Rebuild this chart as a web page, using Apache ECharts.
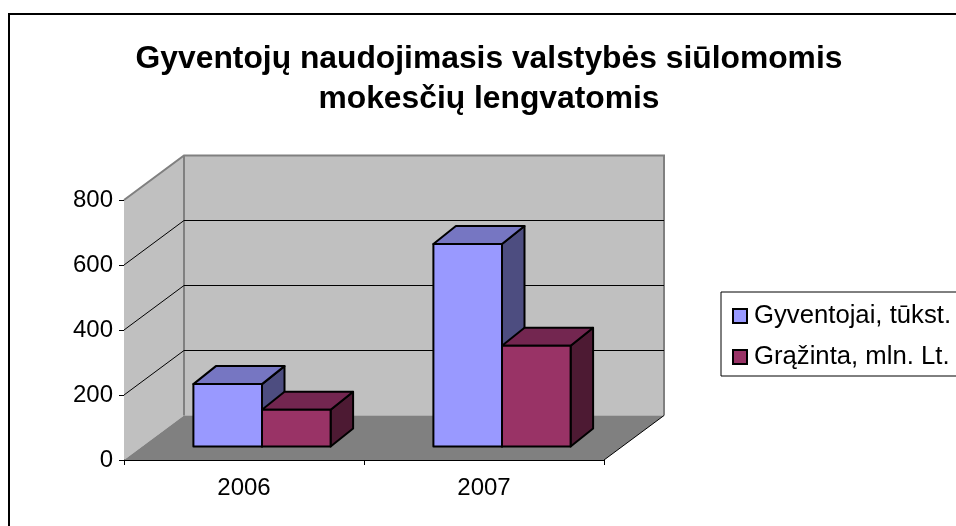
<!DOCTYPE html>
<html><head><meta charset="utf-8">
<style>html,body{margin:0;padding:0;background:#fff}#c{width:956px;height:526px}</style>
<script src="https://cdn.jsdelivr.net/npm/echarts@6/dist/echarts.min.js"></script>
</head><body><div id="c"></div>
<script>
const categories = ['2006', '2007'];
const gyventojai = [192, 623];
const grazinta = [113, 310];
const yTicks = [0, 200, 400, 600, 800];
const titleLines = ['Gyventojų naudojimasis valstybės siūlomomis', 'mokesčių lengvatomis'];
const seriesNames = ['Gyventojai, tūkst.', 'Grąžinta, mln. Lt.'];

const FONT = '"Liberation Sans", Arial, sans-serif';
const WALL_DX = 60, WALL_DY = -44.5;
const BAR_W = 68.6, BAR_OFF_X = 18, BAR_OFF_Y = -13.5, BAR_DX = 22.5, BAR_DY = -18;
const GREY = '#808080', WALL = '#c0c0c0';

function poly(points, fill, stroke, lw) {
  return { type: 'polygon', shape: { points }, style: { fill, stroke: stroke || 'none', lineWidth: lw || 0, lineJoin: 'round' } };
}
function line(points, stroke, lw) {
  return { type: 'polyline', shape: { points }, style: { fill: 'none', stroke, lineWidth: lw } };
}
function renderWalls(params) {
  const c = params.coordSys, l = c.x, r = c.x + c.width, t = c.y, b = c.y + c.height;
  const d = (x, y) => [x + WALL_DX, y + WALL_DY];
  return { type: 'group', children: [
    poly([d(l, t), d(r, t), d(r, b), d(l, b)], WALL),
    poly([[l, t], d(l, t), d(l, b), [l, b]], WALL),
    poly([[l, b], [r, b], d(r, b), d(l, b)], GREY),
    line([[l, t], d(l, t), d(r, t), d(r, b)], GREY, 2),
    line([d(l, t), d(l, b)], GREY, 2),
    line([[r, b], d(r, b)], '#000', 1)
  ]};
}
function renderGrid(params, api) {
  const c = params.coordSys, y = api.coord([0, api.value(0)])[1];
  return line([[c.x, y], [c.x + WALL_DX, y + WALL_DY], [c.x + c.width + WALL_DX, y + WALL_DY]], '#000', 1);
}
function shade(series) {
  return series === 0
    ? { front: '#9999ff', top: '#7676c2', side: '#4d4d80' }
    : { front: '#993366', top: '#732650', side: '#4d1a33' };
}
function renderBar(s) {
  return function (params, api) {
    const base = api.coord([api.value(0), 0]), top = api.coord([api.value(0), api.value(1)]);
    const x0 = base[0] + BAR_OFF_X + (s - 1) * BAR_W, x1 = x0 + BAR_W;
    const yb = base[1] + BAR_OFF_Y, yt = top[1] + BAR_OFF_Y;
    const col = shade(s), k = (x, y) => [x + BAR_DX, y + BAR_DY];
    return { type: 'group', children: [
      poly([[x1, yb], k(x1, yb), k(x1, yt), [x1, yt]], col.side, '#000', 2),
      poly([[x0, yt], [x1, yt], k(x1, yt), k(x0, yt)], col.top, '#000', 2),
      poly([[x0, yb], [x1, yb], [x1, yt], [x0, yt]], col.front, '#000', 2)
    ]};
  };
}
const chart = echarts.init(document.getElementById('c'), null, { renderer: 'canvas' });
chart.setOption({
  animation: false,
  backgroundColor: '#fff',
  title: {
    text: titleLines.join('\n'), left: 484, top: 34, textAlign: 'center',
    textStyle: { fontFamily: FONT, fontWeight: 'bold', fontSize: 31.8, lineHeight: 40, color: '#000' }
  },
  legend: {
    data: seriesNames, orient: 'vertical', left: 721, top: 292, padding: [11, 30, 6, 11], itemGap: 15,
    itemWidth: 14, itemHeight: 14, icon: 'rect', borderColor: '#000', borderWidth: 1,
    textStyle: { fontFamily: FONT, fontSize: 25.7, color: '#000', padding: [0,0,0,2] },
    itemStyle: { borderColor: '#000', borderWidth: 2 }
  },
  grid: { left: 124, right: 352, top: 200, bottom: 66, containLabel: false },
  xAxis: { type: 'category', data: categories,
    axisLine: { lineStyle: { color: '#000', width: 1 } },
    axisTick: { show: true, length: 5, lineStyle: { color: '#000' } },
    axisLabel: { fontFamily: FONT, fontSize: 24, color: '#000', margin: 16 },
    splitLine: { show: false } },
  yAxis: { type: 'value', min: 0, max: 800, interval: 200,
    axisLine: { show: true, lineStyle: { color: '#000', width: 1 } },
    axisTick: { show: true, length: 5, lineStyle: { color: '#000' } },
    axisLabel: { fontFamily: FONT, fontSize: 24, color: '#000', margin: 11, padding: [2, 0, 0, 0] },
    splitLine: { show: false } },
  graphic: [{ type: 'rect', silent: true, z: 100,
    shape: { x: 9, y: 14, width: 960, height: 530 },
    style: { fill: 'none', stroke: '#000', lineWidth: 2 } }],
  series: [
    { type: 'custom', name: 'walls', coordinateSystem: 'cartesian2d', silent: true, z: 1, clip: false,
      data: [[0, 0]], renderItem: renderWalls },
    { type: 'custom', name: 'gridlines', coordinateSystem: 'cartesian2d', silent: true, z: 1, clip: false,
      data: yTicks.slice(1, -1).map(v => [v]), encode: { y: 0 }, renderItem: renderGrid },
    { type: 'custom', name: seriesNames[0], coordinateSystem: 'cartesian2d', z: 3, clip: false,
      itemStyle: { color: '#9999ff' }, encode: { x: 0, y: 1 },
      data: categories.map((c, i) => [i, gyventojai[i]]), renderItem: renderBar(0) },
    { type: 'custom', name: seriesNames[1], coordinateSystem: 'cartesian2d', z: 4, clip: false,
      itemStyle: { color: '#993366' }, encode: { x: 0, y: 1 },
      data: categories.map((c, i) => [i, grazinta[i]]), renderItem: renderBar(1) }
  ]
});
</script></body></html>
